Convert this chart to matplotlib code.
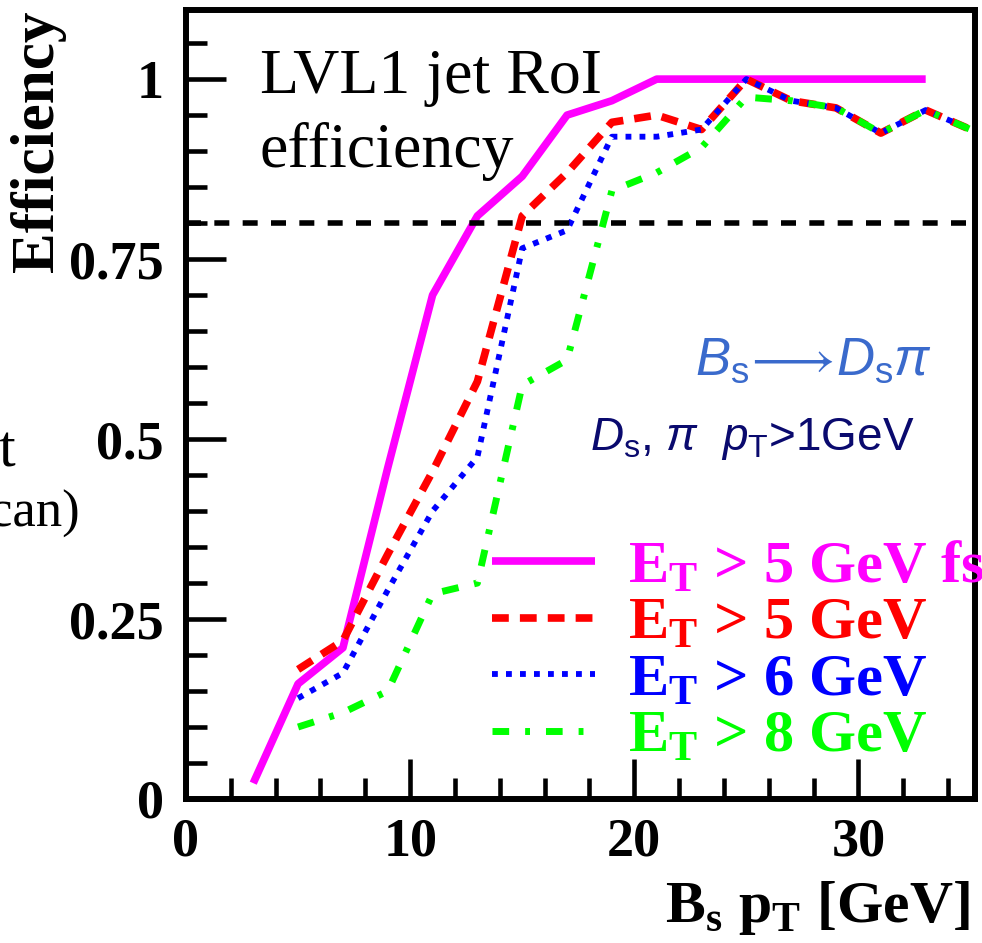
import matplotlib.pyplot as plt
from matplotlib.ticker import FixedLocator, MultipleLocator

plt.rcParams['mathtext.fontset'] = 'custom'
plt.rcParams['mathtext.rm'] = 'Liberation Sans'
plt.rcParams['mathtext.it'] = 'Liberation Sans:italic'
plt.rcParams['mathtext.bf'] = 'Liberation Serif:bold'

W, H = 982, 943

# efficiency vs B_s pT (bin centres at odd GeV)
pt_fs = [3, 5, 7, 9, 11, 13, 15, 17, 19, 21, 23, 25, 27, 29, 31, 33]
eff_fs = [0.022, 0.16, 0.21, 0.46, 0.70, 0.81, 0.865, 0.95, 0.97, 1.0,
          1.0, 1.0, 1.0, 1.0, 1.0, 1.0]

pt = [5, 7, 9, 11, 13, 15, 17, 19, 21, 23, 25, 27, 29, 31, 33, 35]
eff_et5 = [0.18, 0.22, 0.34, 0.455, 0.58, 0.81, 0.87, 0.94, 0.95, 0.93,
           1.0, 0.97, 0.96, 0.925, 0.957, 0.93]
eff_et6 = [0.14, 0.175, 0.29, 0.40, 0.475, 0.765, 0.79, 0.92, 0.92, 0.93,
           1.0, 0.97, 0.96, 0.925, 0.957, 0.93]
eff_et8 = [0.10, 0.12, 0.15, 0.285, 0.30, 0.575, 0.61, 0.845, 0.87, 0.905,
           0.975, 0.97, 0.96, 0.925, 0.957, 0.93]

threshold = 0.8

labels = [r"E$_\mathbf{T}$ > 5 GeV fs", r"E$_\mathbf{T}$ > 5 GeV",
          r"E$_\mathbf{T}$ > 6 GeV", r"E$_\mathbf{T}$ > 8 GeV"]

x_ticks = [0, 10, 20, 30]
x_ticklabels = ["0", "10", "20", "30"]
y_ticks = [0, 0.25, 0.5, 0.75, 1]
y_ticklabels = ["0", "0.25", "0.5", "0.75", "1"]


def fx(x):
    return x / W


def fy(y):
    return 1 - y / H


SERIF = 'Liberation Serif'
SANS = 'Liberation Sans'

fig = plt.figure(figsize=(W / 100, H / 100), dpi=100)
ax = fig.add_axes([fx(186), fy(799), (975 - 186) / W, (799 - 10) / H])

l_fs, = ax.plot(pt_fs, eff_fs, color='#ff00ff', lw=5.5, solid_capstyle='butt')
l5, = ax.plot(pt, eff_et5, color='#ff0000', lw=5.5, dashes=(2.2, 1.45))
l6, = ax.plot(pt, eff_et6, color='#0000ff', lw=4.2, dashes=(1.0, 1.4))
l8, = ax.plot(pt, eff_et8, color='#00ff00', lw=5.0,
              dashes=(2.4, 2.3, 0.7, 2.3))
ax.axhline(threshold, color='black', lw=4, dashes=(2.7, 2.4))

ax.set_xlim(0, 35.2)
ax.set_ylim(0, 1.096)

for s in ax.spines.values():
    s.set_linewidth(4.3)

ax.xaxis.set_major_locator(FixedLocator(x_ticks))
ax.xaxis.set_minor_locator(MultipleLocator(2))
ax.yaxis.set_major_locator(FixedLocator(y_ticks))
ax.yaxis.set_minor_locator(MultipleLocator(0.05))
ax.set_xticklabels(x_ticklabels)
ax.set_yticklabels(y_ticklabels)
ax.tick_params(which='both', direction='in', top=False, right=False, width=3.3)
ax.tick_params(which='major', length=29)
ax.tick_params(which='minor', length=15)
ax.tick_params(axis='y', pad=16)
ax.tick_params(axis='x', pad=13)
for lab in ax.get_xticklabels() + ax.get_yticklabels():
    lab.set_fontfamily(SERIF)
    lab.set_fontweight('bold')
    lab.set_fontsize(39)

leg = ax.legend([l_fs, l5, l6, l8], labels, loc='upper left',
                bbox_to_anchor=(fx(492), fy(540)),
                bbox_transform=fig.transFigure, frameon=False,
                borderpad=0, borderaxespad=0, handlelength=1.7,
                handletextpad=0.55, labelspacing=0.02,
                prop=dict(family=SERIF, weight='bold', size=43.5),
                labelcolor='linecolor')

fig.text(fx(38), fy(10), "Efficiency", rotation=90, ha='center', va='top',
         family=SERIF, weight='bold', size=44)
fig.text(fx(970), fy(922), r"B$_\mathbf{s}$ p$_\mathbf{T}$ [GeV]",
         ha='right', va='baseline', family=SERIF, weight='bold', size=43)

fig.text(fx(260), fy(93), "LVL1 jet RoI", family=SERIF, size=46,
         va='baseline')
fig.text(fx(260), fy(167), "efficiency", family=SERIF, size=46,
         va='baseline')

fig.text(fx(695), fy(375), r"$B_{\rm s}\!\longrightarrow\!D_{\rm s}\pi$",
         color='#3a6acc', size=38, family=SANS, va='baseline')
fig.text(fx(590), fy(450), r"$D_{\rm s}$, $\pi$  $p_{\rm T}$>1GeV",
         color='#0a0a6e', size=33, family=SANS, va='baseline')

# cut-off text fragments at the left edge
fig.text(fx(15), fy(467), "t", family=SERIF, size=43, ha='right',
         va='baseline')
fig.text(fx(80), fy(527), "can)", family=SERIF, size=38, ha='right',
         va='baseline')

fig.savefig("out.png", dpi=100)
